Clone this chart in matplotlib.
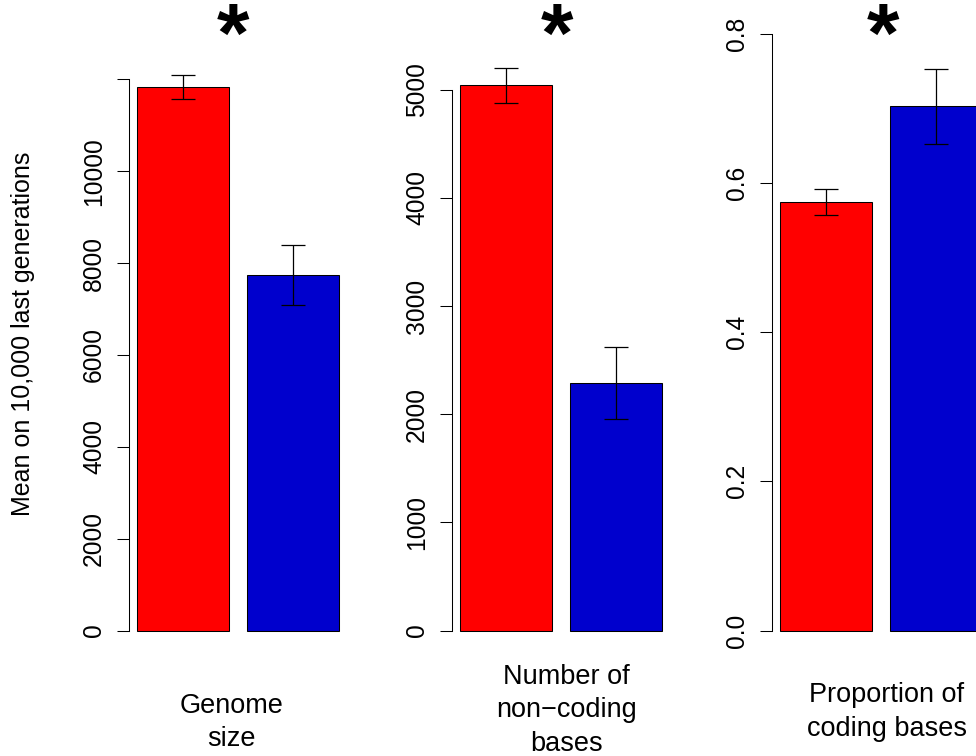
import numpy as np
import matplotlib.pyplot as plt
from matplotlib.transforms import blended_transform_factory

plt.rcParams['font.family'] = ['Liberation Sans', 'DejaVu Sans']

# ==========================
# DATA
# ==========================

group_labels = [
    "Genome\nsize",
    "Number of\nnon\u2212coding\nbases",
    "Proportion of\ncoding bases",
]

red_means = [11840, 5040, 0.5744]
red_errs = [262, 165, 0.0174]

blue_means = [7745, 2286, 0.7026]
blue_errs = [657, 334, 0.050]

tick_steps = [2000, 1000, 0.2]
tick_tops = [12000, 5000, 0.8]
tick_labels = [
    ["0", "2000", "4000", "6000", "8000", "10000", ""],
    ["0", "1000", "2000", "3000", "4000", "5000"],
    ["0.0", "0.2", "0.4", "0.6", "0.8"],
]

y_title = "Mean on 10,000 last generations"

# ==========================
# LAYOUT (pixels)
# ==========================

W, H = 976, 756
spine_x = [129, 452, 772]
zero_y = 630.5
top_tick_y = [79.3, 89.7, 33.7]
bar_px = 92
ax_top, ax_bot = 0, 660
x0, x1 = 0.2 - 8 / bar_px, 2.6

label_x = [1.227, 1.36, 1.363]
# baseline of the last line of each group label
label_base = [746.5, 751, 736]
star_x = [1.243, 1.254, 1.32]

RED = "#FF0000"
BLUE = "#0000CD"

fig = plt.figure(figsize=(W / 100, H / 100), dpi=100)

for i in range(3):

    ax = fig.add_axes([
        spine_x[i] / W,
        (H - ax_bot) / H,
        (x1 - x0) * bar_px / W,
        (ax_bot - ax_top) / H,
    ])

    scale = (zero_y - top_tick_y[i]) / tick_tops[i]
    ax.set_ylim(-(ax_bot - zero_y) / scale, (zero_y - ax_top) / scale)
    ax.set_xlim(x0, x1)

    xs = [0.7, 1.9]
    ax.bar(
        xs,
        [red_means[i], blue_means[i]],
        width=1,
        color=[RED, BLUE],
        edgecolor="black",
        linewidth=0.75,
        clip_on=False,
    )
    ax.errorbar(
        xs,
        [red_means[i], blue_means[i]],
        yerr=[red_errs[i], blue_errs[i]],
        fmt="none",
        ecolor="black",
        elinewidth=0.9,
        capsize=8.3,
        capthick=0.9,
    )

    for side in ["top", "right", "bottom"]:
        ax.spines[side].set_visible(False)
    ax.spines["left"].set_bounds(0, tick_tops[i])
    ax.spines["left"].set_linewidth(0.75)

    ticks = np.arange(len(tick_labels[i])) * tick_steps[i]
    ax.set_yticks(ticks)
    ax.set_yticklabels(tick_labels[i], rotation=90, va="center")
    ax.tick_params(axis="y", length=8.64, width=0.75, pad=7.9,
                   labelsize=17.7)
    ax.set_xticks([])

    trans = blended_transform_factory(ax.transData, fig.transFigure)

    ax.text(
        label_x[i], 1 - label_base[i] / H,
        group_labels[i],
        transform=trans,
        ha="center", va="baseline",
        fontsize=19.5, linespacing=1.38,
    )

    ax.text(
        star_x[i], 1 - 62 / H,
        "*",
        transform=trans,
        ha="center", va="baseline",
        fontsize=60, fontweight="bold",
    )

fig.text(
    23 / W, 1 - 333.5 / H,
    y_title,
    rotation=90, ha="center", va="center",
    fontsize=18,
)

fig.savefig("out.png", dpi=100)
